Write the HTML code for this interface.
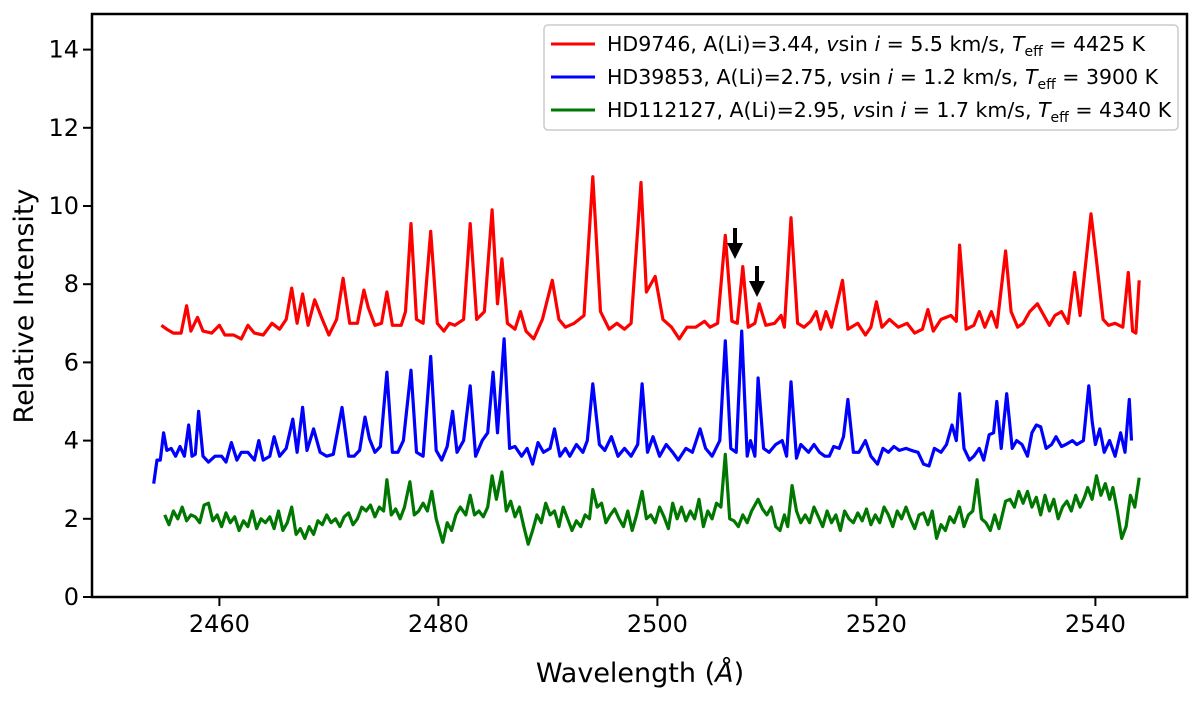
<!DOCTYPE html>
<html><head><meta charset="utf-8"><style>
body{margin:0;background:#fff;}
svg text{font-family:"DejaVu Sans","Liberation Sans",sans-serif;}
</style></head><body>
<svg id="chart" width="1200" height="696" viewBox="0 0 1200 696" xmlns="http://www.w3.org/2000/svg">
<g id="plot"></g>
<g id="axes"></g>
<text x="0" y="0" transform="translate(33,306) rotate(-90)" text-anchor="middle" font-size="27">Relative Intensity</text>
<text x="640" y="682" text-anchor="middle" font-size="27">Wavelength (<tspan font-style="italic">Å</tspan>)</text>
<g><rect x="733" y="228" width="4" height="18" fill="#000"/><polygon points="727,243 743,243 735,259" fill="#000"/></g>
<g><rect x="755" y="266" width="4" height="18" fill="#000"/><polygon points="749,281 765,281 757,297" fill="#000"/></g>
<g>
<rect x="544" y="25" width="634" height="105" rx="4" fill="#fff" stroke="#ccc" stroke-width="1.5"/>
<g><line x1="551" y1="44" x2="595" y2="44" stroke="#ff0000" stroke-width="3"/>
<text x="607" y="51" font-size="20.5">HD9746, A(Li)=3.44, <tspan font-style="italic">v</tspan>sin <tspan font-style="italic">i</tspan> = 5.5 km/s, <tspan font-style="italic">T</tspan><tspan font-size="14" dy="5">eff</tspan><tspan dy="-5"> = 4425 K</tspan></text></g>
<g><line x1="551" y1="77" x2="595" y2="77" stroke="#0000ff" stroke-width="3"/>
<text x="607" y="84" font-size="20.5">HD39853, A(Li)=2.75, <tspan font-style="italic">v</tspan>sin <tspan font-style="italic">i</tspan> = 1.2 km/s, <tspan font-style="italic">T</tspan><tspan font-size="14" dy="5">eff</tspan><tspan dy="-5"> = 3900 K</tspan></text></g>
<g><line x1="551" y1="110" x2="595" y2="110" stroke="#007700" stroke-width="3"/>
<text x="607" y="117" font-size="20.5">HD112127, A(Li)=2.95, <tspan font-style="italic">v</tspan>sin <tspan font-style="italic">i</tspan> = 1.7 km/s, <tspan font-style="italic">T</tspan><tspan font-size="14" dy="5">eff</tspan><tspan dy="-5"> = 4340 K</tspan></text></g>
</g>
</svg>
<script>
const xTicks = [2460, 2480, 2500, 2520, 2540];
const yTicks = [0, 2, 4, 6, 8, 10, 12, 14];
const redWl = [2454.7,2455.2,2455.8,2456.5,2457.0,2457.4,2458.0,2458.5,2459.3,2460.0,2460.5,2461.3,2462.0,2462.6,2463.2,2464.0,2464.8,2465.5,2466.1,2466.6,2467.1,2467.6,2468.1,2468.7,2469.4,2470.0,2470.7,2471.3,2471.9,2472.6,2473.2,2473.6,2474.2,2474.8,2475.3,2475.8,2476.6,2477.0,2477.5,2478.0,2478.6,2479.3,2479.9,2480.5,2481.0,2481.5,2482.3,2482.9,2483.5,2484.2,2484.9,2485.4,2485.8,2486.3,2487.0,2487.5,2488.0,2488.7,2489.5,2490.4,2491.0,2491.6,2492.4,2493.3,2494.1,2494.8,2495.6,2496.3,2497.0,2497.6,2498.5,2499.0,2499.8,2500.5,2501.3,2502.0,2502.7,2503.5,2504.3,2504.8,2505.5,2506.2,2506.8,2507.3,2507.8,2508.3,2508.9,2509.3,2509.9,2510.7,2511.3,2511.6,2512.2,2512.8,2513.4,2514.0,2514.5,2514.9,2515.4,2515.9,2516.9,2517.4,2518.3,2519.0,2519.5,2520.0,2520.5,2521.2,2522.0,2522.8,2523.5,2524.2,2524.7,2525.2,2525.9,2526.8,2527.3,2527.6,2528.2,2528.9,2529.4,2529.9,2530.5,2531.0,2531.8,2532.3,2532.9,2533.4,2534.0,2534.7,2535.3,2535.8,2536.3,2536.9,2537.5,2538.1,2538.6,2539.6,2540.1,2540.7,2541.2,2541.8,2542.5,2543.0,2543.4,2543.7,2544.0];
const redVal = [6.95,6.85,6.75,6.75,7.45,6.8,7.15,6.8,6.75,6.95,6.7,6.7,6.6,6.95,6.75,6.7,7.0,6.85,7.1,7.9,7.0,7.75,6.95,7.6,7.1,6.7,7.1,8.15,7.0,7.0,7.85,7.4,6.95,7.0,7.8,6.95,6.95,7.3,9.55,7.1,7.0,9.35,7.0,6.8,7.0,6.95,7.1,9.55,7.1,7.3,9.9,7.5,8.65,7.0,6.85,7.3,6.8,6.6,7.1,8.1,7.1,6.9,7.0,7.2,10.75,7.3,6.85,7.0,6.85,7.0,10.6,7.8,8.2,7.1,6.9,6.6,6.9,6.9,7.05,6.9,7.0,9.25,7.05,7.0,8.45,6.9,7.0,7.5,6.95,7.0,7.2,6.9,9.7,7.0,6.9,7.05,7.3,6.85,7.3,6.9,8.1,6.85,7.0,6.7,6.9,7.55,6.9,7.1,6.9,7.0,6.75,6.85,7.35,6.8,7.1,7.2,7.05,9.0,6.85,6.95,7.3,6.9,7.3,6.9,8.85,7.3,6.9,7.0,7.3,7.5,7.2,6.95,7.2,7.3,7.0,8.3,7.2,9.8,8.6,7.1,6.95,7.0,6.9,8.3,6.8,6.75,8.1];
const blueWl = [2454.0,2454.3,2454.6,2454.9,2455.2,2455.6,2456.0,2456.4,2456.8,2457.2,2457.5,2457.8,2458.1,2458.5,2459.0,2459.6,2460.2,2460.6,2461.1,2461.6,2462.0,2462.6,2463.2,2463.6,2464.0,2464.6,2465.0,2465.5,2466.1,2466.7,2467.1,2467.6,2468.0,2468.6,2469.2,2469.8,2470.4,2471.2,2471.8,2472.3,2472.8,2473.3,2473.7,2474.2,2474.7,2475.3,2475.8,2476.3,2476.8,2477.5,2478.0,2478.6,2479.3,2479.8,2480.3,2480.8,2481.3,2481.7,2482.3,2482.9,2483.4,2484.0,2484.5,2485.0,2485.4,2486.0,2486.5,2487.0,2487.6,2488.1,2488.6,2489.1,2489.6,2490.2,2490.6,2491.1,2491.6,2492.0,2492.6,2493.2,2493.6,2494.1,2494.7,2495.2,2495.8,2496.4,2497.0,2497.6,2498.2,2498.6,2499.1,2499.6,2500.2,2500.8,2501.4,2501.9,2502.6,2503.2,2503.9,2504.4,2505.0,2505.7,2506.2,2506.7,2507.2,2507.7,2508.2,2508.5,2508.9,2509.2,2509.7,2510.2,2510.8,2511.4,2511.8,2512.2,2512.7,2513.1,2513.8,2514.3,2514.8,2515.3,2515.7,2516.1,2516.6,2517.0,2517.4,2517.9,2518.4,2519.0,2519.5,2520.1,2520.6,2521.1,2521.6,2522.1,2522.7,2523.2,2523.8,2524.3,2524.8,2525.3,2525.9,2526.4,2526.9,2527.3,2527.6,2528.0,2528.5,2528.9,2529.4,2529.8,2530.3,2530.7,2531.0,2531.4,2531.9,2532.4,2532.8,2533.3,2533.8,2534.2,2534.6,2535.0,2535.5,2536.0,2536.4,2536.9,2537.3,2537.9,2538.3,2538.9,2539.4,2539.7,2540.0,2540.4,2540.8,2541.3,2541.8,2542.3,2542.7,2543.1,2543.3];
const blueVal = [2.9,3.5,3.5,4.2,3.75,3.8,3.6,3.85,3.6,4.4,3.6,3.65,4.75,3.6,3.45,3.6,3.6,3.45,3.95,3.5,3.7,3.7,3.5,4.0,3.5,3.6,4.1,3.6,3.8,4.55,3.7,4.85,3.75,4.3,3.7,3.6,3.65,4.85,3.6,3.6,3.75,4.6,4.05,3.7,3.85,5.75,3.7,3.7,4.0,5.8,3.7,3.6,6.15,3.75,3.5,3.85,4.75,3.7,4.0,5.4,3.6,4.0,4.2,5.75,4.2,6.6,3.8,3.85,3.6,3.8,3.4,3.95,3.7,3.8,4.3,3.6,3.8,3.6,3.9,3.7,4.0,5.45,3.9,3.75,4.1,3.6,3.8,3.6,3.9,5.45,3.7,4.1,3.6,3.9,3.7,3.5,3.8,3.7,4.3,3.8,3.6,4.0,6.55,3.8,3.7,6.8,3.6,4.0,3.6,5.6,3.8,3.7,3.9,4.0,3.6,5.5,3.55,3.9,3.7,3.9,3.7,3.6,3.6,3.85,3.8,4.1,5.05,3.7,3.7,4.0,3.6,3.4,3.8,3.7,3.85,3.75,3.8,3.75,3.7,3.4,3.35,3.8,3.7,3.9,4.4,4.0,5.2,3.8,3.5,3.6,3.8,3.5,4.15,4.2,5.0,3.8,5.2,3.8,4.0,3.9,3.6,4.2,4.4,4.35,3.8,3.9,4.1,3.85,3.9,4.0,3.9,4.0,5.4,4.5,3.9,4.3,3.7,4.0,3.6,4.2,3.7,5.05,4.0];
const greenWl = [2455.0,2455.4,2455.8,2456.2,2456.6,2457.0,2457.4,2457.8,2458.2,2458.6,2459.0,2459.4,2459.8,2460.2,2460.6,2461.0,2461.4,2461.8,2462.2,2462.6,2463.0,2463.4,2463.8,2464.2,2464.6,2465.0,2465.4,2465.8,2466.2,2466.6,2467.0,2467.4,2467.8,2468.2,2468.6,2469.0,2469.4,2469.8,2470.2,2470.6,2471.0,2471.4,2471.8,2472.2,2472.6,2473.0,2473.4,2473.8,2474.2,2474.6,2475.0,2475.3,2475.7,2476.1,2476.5,2476.9,2477.4,2477.8,2478.2,2478.6,2479.0,2479.4,2479.8,2480.4,2480.8,2481.2,2481.6,2482.0,2482.5,2482.9,2483.3,2483.7,2484.1,2484.5,2484.9,2485.3,2485.8,2486.2,2486.6,2487.0,2487.4,2487.8,2488.2,2488.6,2489.0,2489.4,2489.8,2490.2,2490.6,2491.0,2491.4,2491.8,2492.2,2492.6,2493.0,2493.4,2493.8,2494.1,2494.5,2494.9,2495.3,2495.7,2496.1,2496.5,2496.9,2497.3,2497.7,2498.1,2498.6,2499.0,2499.4,2499.8,2500.2,2500.6,2501.0,2501.4,2501.8,2502.2,2502.6,2503.0,2503.4,2503.8,2504.2,2504.6,2505.0,2505.4,2505.8,2506.2,2506.6,2507.0,2507.4,2507.8,2508.2,2508.6,2509.2,2509.6,2510.0,2510.4,2510.8,2511.2,2511.6,2511.9,2512.3,2512.7,2513.1,2513.5,2513.9,2514.3,2514.7,2515.1,2515.5,2515.9,2516.3,2516.7,2517.1,2517.5,2517.9,2518.3,2518.7,2519.1,2519.5,2519.9,2520.3,2520.7,2521.1,2521.5,2521.9,2522.3,2522.7,2523.1,2523.5,2523.9,2524.3,2524.7,2525.1,2525.5,2525.9,2526.3,2526.7,2527.1,2527.6,2528.0,2528.4,2528.8,2529.2,2529.6,2530.0,2530.4,2530.8,2531.2,2531.8,2532.2,2532.6,2533.0,2533.4,2533.8,2534.2,2534.6,2535.0,2535.4,2535.8,2536.2,2536.6,2537.0,2537.4,2537.8,2538.2,2538.6,2539.0,2539.3,2539.7,2540.1,2540.5,2540.9,2541.3,2541.6,2542.0,2542.4,2542.8,2543.2,2543.6,2544.0];
const greenVal = [2.1,1.85,2.2,2.0,2.3,1.95,2.1,2.05,1.9,2.35,2.4,1.95,2.1,1.8,2.15,1.9,2.05,1.7,1.95,1.8,2.2,1.75,2.0,1.9,2.05,1.75,2.2,1.7,1.9,2.3,1.6,1.75,1.5,1.8,1.6,1.95,1.85,2.1,1.9,2.0,1.8,2.05,2.15,1.85,2.0,2.3,2.2,2.35,2.05,2.3,2.2,3.0,2.1,2.25,2.0,2.3,2.95,2.1,2.2,2.4,2.2,2.7,2.0,1.4,1.9,1.7,2.1,2.3,2.1,2.6,2.1,2.2,2.05,2.3,3.1,2.5,3.2,2.2,2.45,2.05,2.3,1.8,1.35,1.7,2.1,1.9,2.4,2.1,2.2,1.8,2.3,2.0,1.7,1.95,1.8,2.1,2.0,2.75,2.3,2.4,1.9,2.1,2.25,2.0,1.8,2.2,1.7,2.1,2.7,2.0,2.1,1.9,2.3,2.05,1.75,2.4,2.0,2.3,1.95,2.2,2.0,2.5,1.8,2.2,2.0,2.4,2.3,3.65,2.0,1.95,1.8,2.1,1.9,2.2,2.5,2.25,2.1,2.3,1.8,1.7,2.1,1.8,2.85,2.2,1.9,2.1,1.9,2.3,2.05,1.8,2.2,1.9,2.1,1.7,2.2,2.0,1.9,2.15,1.95,2.25,1.85,2.1,1.9,2.3,2.1,1.8,2.2,2.0,2.3,2.0,1.75,2.1,2.15,1.85,2.2,1.5,1.85,1.7,2.05,1.9,2.3,1.8,2.1,2.2,3.0,2.0,1.9,1.7,2.1,1.75,2.45,2.5,2.3,2.7,2.4,2.7,2.3,2.55,2.1,2.6,2.2,2.5,2.0,2.3,2.45,2.2,2.6,2.3,2.55,2.8,2.5,3.1,2.6,2.9,2.5,2.8,2.2,1.5,1.8,2.6,2.3,3.05,2.5,3.0];

const X0=2460, PX0=219.4, PXU=10.95, Y0=597, PYU=39.1;
const xS = w => PX0 + (w - X0) * PXU;
const yS = v => Y0 - v * PYU;
const NS='http://www.w3.org/2000/svg';
const plot=document.getElementById('plot');
const axes=document.getElementById('axes');
function line(wl, vals, color, name){
  const p=document.createElementNS(NS,'path');
  p.setAttribute('d', wl.map((w,i)=>(i?'L':'M')+xS(w).toFixed(1)+','+yS(vals[i]).toFixed(1)).join(''));
  p.setAttribute('fill','none');p.setAttribute('stroke',color);p.setAttribute('stroke-width','3.2');p.setAttribute('stroke-linejoin','round');
  
  
  plot.appendChild(p);
}
line(redWl, redVal, '#ff0000', 'series-hd9746');
line(blueWl, blueVal, '#0000ff', 'series-hd39853');
line(greenWl, greenVal, '#007700', 'series-hd112127');

const frame=document.createElementNS(NS,'rect');
frame.setAttribute('x',92);frame.setAttribute('y',14);frame.setAttribute('width',1095);frame.setAttribute('height',583);
frame.setAttribute('fill','none');frame.setAttribute('stroke','#000');frame.setAttribute('stroke-width','2.5');


axes.appendChild(frame);
xTicks.forEach(t=>{
  const x=xS(t);
  const l=document.createElementNS(NS,'line');
  l.setAttribute('x1',x);l.setAttribute('x2',x);l.setAttribute('y1',597);l.setAttribute('y2',606);l.setAttribute('stroke','#000');l.setAttribute('stroke-width','2');
  
  
  axes.appendChild(l);
  const tx=document.createElementNS(NS,'text');
  tx.setAttribute('x',x);tx.setAttribute('y',632);tx.setAttribute('text-anchor','middle');tx.setAttribute('font-size','24');tx.textContent=t;
  
  
  axes.appendChild(tx);
});
yTicks.forEach(t=>{
  const y=yS(t);
  const l=document.createElementNS(NS,'line');
  l.setAttribute('x1',83);l.setAttribute('x2',92);l.setAttribute('y1',y);l.setAttribute('y2',y);l.setAttribute('stroke','#000');l.setAttribute('stroke-width','2');
  
  
  axes.appendChild(l);
  const tx=document.createElementNS(NS,'text');
  tx.setAttribute('x',79);tx.setAttribute('y',y+8);tx.setAttribute('text-anchor','end');tx.setAttribute('font-size','24');tx.textContent=t;
  
  
  axes.appendChild(tx);
});
</script>
</body></html>
